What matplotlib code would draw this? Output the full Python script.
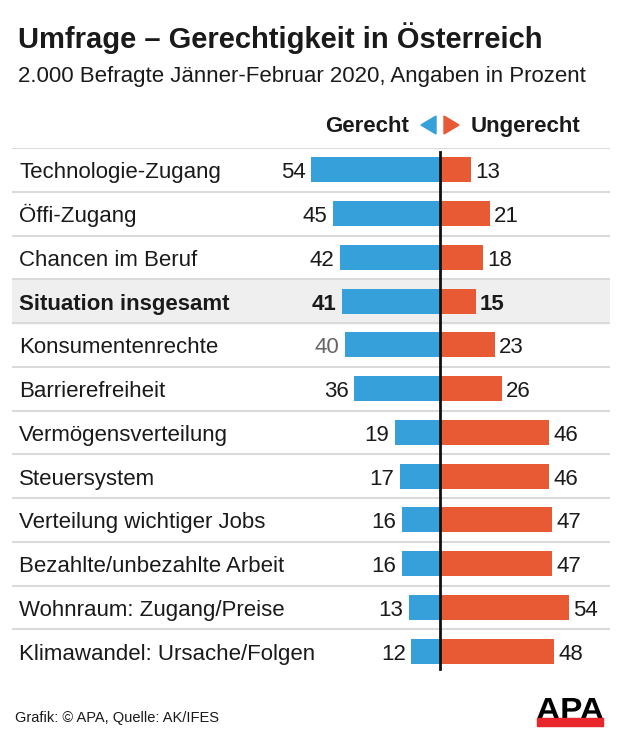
import matplotlib
matplotlib.use("Agg")
import matplotlib.pyplot as plt
from matplotlib.patches import Polygon, Rectangle, PathPatch
from matplotlib.textpath import TextPath
from matplotlib.font_manager import FontProperties
from matplotlib.transforms import Affine2D

plt.rcParams['font.family'] = ['Liberation Sans', 'DejaVu Sans']

# survey data (percent)
categories = [
    "Technologie-Zugang", "Öffi-Zugang", "Chancen im Beruf",
    "Situation insgesamt", "Konsumentenrechte", "Barrierefreiheit",
    "Vermögensverteilung", "Steuersystem", "Verteilung wichtiger Jobs",
    "Bezahlte/unbezahlte Arbeit", "Wohnraum: Zugang/Preise",
    "Klimawandel: Ursache/Folgen",
]
gerecht = [54, 45, 42, 41, 40, 36, 19, 17, 16, 16, 13, 12]
ungerecht = [13, 21, 18, 15, 23, 26, 46, 46, 47, 47, 54, 48]
highlight = "Situation insgesamt"

BLUE = "#35a0da"
ORANGE = "#e85a34"
W, H = 620, 739

fig = plt.figure(figsize=(W / 100, H / 100), dpi=100)

# pixel helper for axes placement (top-left origin)
def rect(x0, y0, x1, y1):
    return [x0 / W, 1 - y1 / H, (x1 - x0) / W, (y1 - y0) / H]

# overlay for titles / header / footer in pixel coords
deco = fig.add_axes([0, 0, 1, 1])
deco.set_xlim(0, W)
deco.set_ylim(H, 0)
deco.axis("off")

# main bar axes
ax = fig.add_axes(rect(12, 148, 610, 673))
scale = 2.38  # px per percent
ax.set_xlim(-(440 - 12) / scale, (610 - 440) / scale)
ax.set_ylim(len(categories) - 0.5, -0.5)
ax.axis("off")

row_px = (673 - 148) / len(categories)
base = 8.5 / row_px  # baseline offset below row centre
label_x = -(440 - 19) / scale

y = list(range(len(categories)))
for i, cat in enumerate(categories):
    bold = cat == highlight
    if bold:
        ax.axhspan(i - 0.5, i + 0.5, color="#efefef", zorder=0)
    ax.axhline(i - 0.5, color="#dadada", lw=1.5, zorder=1)
    fw = "bold" if bold else "normal"
    ax.text(label_x, i + base, cat, ha="left", va="baseline", fontsize=16,
            fontweight=fw, color="#1a1a1a")
    lc = "#666666" if cat == "Konsumentenrechte" else "#1a1a1a"
    ax.text(-gerecht[i] - 2.4, i + base, str(gerecht[i]), ha="right",
            va="baseline", fontsize=16, fontweight=fw, color=lc)
    ax.text(ungerecht[i] + 1.8, i + base, str(ungerecht[i]), ha="left",
            va="baseline", fontsize=16, fontweight=fw, color="#1a1a1a")

ax.barh(y, [-g for g in gerecht], height=0.57, color=BLUE, zorder=2)
ax.barh(y, ungerecht, height=0.57, color=ORANGE, zorder=2)
ax.plot([0, 0], [-0.41, 11.4], color="#111111", lw=2, zorder=3)

# titles
deco.text(18, 48, "Umfrage – Gerechtigkeit in Österreich", fontsize=21,
          fontweight="bold", color="#1a1a1a", ha="left", va="baseline")
deco.text(18, 82, "2.000 Befragte Jänner-Februar 2020, Angaben in Prozent",
          fontsize=16, color="#1a1a1a", ha="left", va="baseline")

# header with triangles
deco.text(409, 132, "Gerecht", fontsize=16, fontweight="bold",
          color="#1a1a1a", ha="right", va="baseline")
deco.text(471, 132, "Ungerecht", fontsize=16, fontweight="bold",
          color="#1a1a1a", ha="left", va="baseline")
deco.add_patch(Polygon([[436, 116], [436, 134], [421, 125]], closed=True,
                       color=BLUE))
deco.add_patch(Polygon([[444, 116], [444, 134], [459, 125]], closed=True,
                       color=ORANGE))

# footer
deco.text(15, 722, "Grafik: © APA, Quelle: AK/IFES", fontsize=10.5,
          color="#1a1a1a", ha="left", va="baseline")

# APA logo: wide black letters on a red strip
tp = TextPath((0, 0), "APA", size=1,
              prop=FontProperties(family="Liberation Sans", weight="bold"))
bb = tp.get_extents()
sx = 66 / bb.width
sy = 21 / bb.height
tr = Affine2D().translate(-bb.x0, -bb.y0).scale(sx, -sy).translate(537, 719)
deco.add_patch(PathPatch(tr.transform_path(tp), color="black", lw=0))
deco.add_patch(Rectangle((537, 718), 66, 8, color="#e8262b"))

fig.savefig("out.png", dpi=100)
